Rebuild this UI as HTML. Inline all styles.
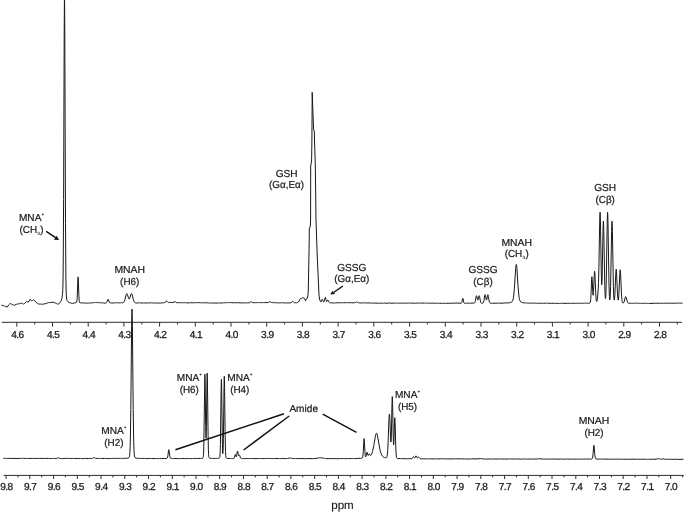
<!DOCTYPE html>
<html><head><meta charset="utf-8"><title>NMR spectra</title>
<style>
html,body{margin:0;padding:0;background:#fff;}
svg{display:block}
text{font-family:"Liberation Sans",sans-serif;fill:#1c1c1c;text-anchor:middle;text-rendering:geometricPrecision}
.lab text{font-size:10.1px;stroke:#1c1c1c;stroke-width:0.22px}
.tk text{font-size:10.1px;letter-spacing:-0.55px;stroke:#1c1c1c;stroke-width:0.28px}
.sp{font-size:4.6px;stroke-width:0.1px}
.sb{font-size:4.6px;stroke-width:0.1px}
</style></head><body>
<svg width="685" height="513" viewBox="0 0 685 513">
<rect width="685" height="513" fill="#fff"/>
<g fill="none" stroke="#2e2e2e" stroke-width="1">
<path d="M1.8 322.3H682" />
<path d="M16.8 322.3v4.3M34.7 322.3v2.2M52.5 322.3v4.3M70.4 322.3v2.2M88.2 322.3v4.3M106.1 322.3v2.2M123.9 322.3v4.3M141.8 322.3v2.2M159.6 322.3v4.3M177.5 322.3v2.2M195.3 322.3v4.3M213.2 322.3v2.2M231.0 322.3v4.3M248.9 322.3v2.2M266.7 322.3v4.3M284.6 322.3v2.2M302.4 322.3v4.3M320.3 322.3v2.2M338.1 322.3v4.3M356.0 322.3v2.2M373.8 322.3v4.3M391.7 322.3v2.2M409.6 322.3v4.3M427.4 322.3v2.2M445.3 322.3v4.3M463.1 322.3v2.2M481.0 322.3v4.3M498.8 322.3v2.2M516.7 322.3v4.3M534.5 322.3v2.2M552.4 322.3v4.3M570.2 322.3v2.2M588.1 322.3v4.3M605.9 322.3v2.2M623.8 322.3v4.3M641.6 322.3v2.2M659.5 322.3v4.3M677.3 322.3v2.2" />
<path d="M3.6 475.4H683.8" />
<path d="M6.1 475.4v3.6M18.0 475.4v2.0M29.8 475.4v3.6M41.7 475.4v2.0M53.6 475.4v3.6M65.4 475.4v2.0M77.3 475.4v3.6M89.2 475.4v2.0M101.0 475.4v3.6M112.9 475.4v2.0M124.8 475.4v3.6M136.6 475.4v2.0M148.5 475.4v3.6M160.4 475.4v2.0M172.3 475.4v3.6M184.1 475.4v2.0M196.0 475.4v3.6M207.9 475.4v2.0M219.7 475.4v3.6M231.6 475.4v2.0M243.5 475.4v3.6M255.3 475.4v2.0M267.2 475.4v3.6M279.1 475.4v2.0M290.9 475.4v3.6M302.8 475.4v2.0M314.7 475.4v3.6M326.5 475.4v2.0M338.4 475.4v3.6M350.3 475.4v2.0M362.1 475.4v3.6M374.0 475.4v2.0M385.9 475.4v3.6M397.7 475.4v2.0M409.6 475.4v3.6M421.5 475.4v2.0M433.3 475.4v3.6M445.2 475.4v2.0M457.1 475.4v3.6M469.0 475.4v2.0M480.8 475.4v3.6M492.7 475.4v2.0M504.6 475.4v3.6M516.4 475.4v2.0M528.3 475.4v3.6M540.2 475.4v2.0M552.0 475.4v3.6M563.9 475.4v2.0M575.8 475.4v3.6M587.6 475.4v2.0M599.5 475.4v3.6M611.4 475.4v2.0M623.2 475.4v3.6M635.1 475.4v2.0M647.0 475.4v3.6M658.8 475.4v2.0M670.7 475.4v3.6M682.6 475.4v2.0" />
</g>
<g fill="none" stroke="#181818" stroke-width="1.0" stroke-linejoin="round" stroke-linecap="round">
<path d="M1.8 305.19L3.5 305.78L3.8 305.77L4.4 306.05L4.8 306.09L5.4 306.35L5.6 306.33L6.9 307.1L7.2 307.16L8.7 304.89L9.5 304.24L10.2 303.5L11.1 303.87L11.3 304.1L12.3 304.65L12.5 304.65L13.2 304.96L14.3 305.25L14.8 305.09L16.3 304.34L17.6 303.99L17.7 304.06L18.3 303.94L19 303.68L19.3 303.71L19.9 303.52L20.1 303.56L20.8 303.27L21 303.35L21.5 303.23L22.2 303.27L22.6 303.58L23.7 304.16L24.2 303.64L24.7 303.32L26.3 301.93L26.8 301.3L27.5 301.77L28.1 302.42L30.1 299.33L30.3 299.66L31 300.24L31.7 301L32.7 300.29L33.2 299.79L33.9 300.16L34.3 300.51L34.8 300.74L36.8 303.05L37.1 303.12L37.4 303.37L38 303.63L38.5 304.02L39 304.18L39.7 304.01L40.6 304.02L41 304.21L41.6 304.29L41.9 304.43L42.3 304.26L43.4 304.11L43.9 303.89L45.1 303.79L46.2 303.52L47.8 302.76L48.6 302.62L49 302.66L49.3 302.54L50.5 302.57L53.1 302.17L54.2 302.57L54.8 302.85L55.1 303.11L55.7 303.23L56 303.46L56.3 303.47L57.1 303.77L57.7 304.25L59.1 303.63L59.5 303.25L59.9 302.59L60.5 301.9L61.1 301.02L61.3 300.54L61.9 298.42L62.5 294.47L62.8 289.85L63 281.97L63.2 266.9L63.6 199.56L64.2 33.28L64.4 1.55L64.5 -2.65L64.6 1.71L64.8 33.76L65.5 223.4L65.9 278.21L66.2 292.96L66.5 297.99L66.8 299.69L67.2 300.67L67.8 301.6L69 302.49L69.3 302.64L70.2 302.77L71.4 303.31L72.7 303.34L74 303.12L74.6 302.88L75.8 302.74L76.4 302.51L76.7 302L77 300.26L77.2 297.51L77.8 281.05L78 277.34L78.1 276.84L78.3 278.8L78.9 295.57L79.2 300.46L79.4 301.96L79.6 302.58L79.8 302.77L80.5 302.95L80.6 302.88L82.2 302.84L82.8 302.97L83.2 302.91L83.4 303.03L83.6 302.91L84.1 302.92L85.4 303.19L87.1 303.08L87.6 303.22L87.9 303.11L88.4 303.16L88.8 302.99L89.4 303.11L89.6 303.01L90 303.06L90.6 302.9L92.3 302.89L92.5 302.78L93.1 302.73L93.7 302.78L94.1 302.6L94.5 302.61L94.7 302.52L95.3 302.52L95.7 302.37L95.9 302.43L96.2 302.36L97.3 302.64L97.8 302.67L98.5 302.56L99.4 302.76L100.8 302.77L101.4 302.93L101.8 302.81L102.1 302.89L102.6 302.85L103 303.04L103.3 302.95L105 303.17L105.6 303.09L106.5 302.69L106.7 302.45L107 301.92L107.7 299.81L108.1 299.27L108.3 299.45L108.6 300.05L109.3 302.2L109.8 302.83L110.9 302.94L111.2 302.87L111.7 302.99L113 302.95L113.3 303.05L113.8 302.95L114.1 302.99L114.5 302.84L115.4 302.73L116.6 302.79L117.5 302.72L118.8 302.91L119.1 302.74L119.4 302.82L120.1 302.75L120.3 302.86L120.5 302.75L121.5 302.7L122.5 302.86L123.1 302.68L123.8 302.21L124.4 301.17L124.9 299.66L126.1 294.84L126.5 293.83L126.8 293.54L127.1 293.8L127.4 294.45L128.6 298.53L128.9 299.02L129.1 299.12L129.5 298.84L129.7 298.43L130.8 294.66L131.1 293.92L131.5 293.51L131.8 293.8L132.2 294.86L133.4 299.72L134.1 301.64L134.7 302.49L135.5 302.87L136.3 303.09L136.9 302.96L138.2 303.07L138.6 302.92L139.6 302.76L140 302.93L140.4 302.9L141 303.02L143.2 303.01L143.8 302.81L144.3 302.91L144.5 302.86L145 303.05L147.6 302.9L148.3 302.94L148.7 303.1L149.1 303.13L150.3 302.78L150.9 302.88L151.2 302.79L152.5 303L154.3 302.92L154.5 303.02L155.2 303.02L155.5 303.12L156.2 302.99L156.4 303.03L156.6 302.91L158.1 303.15L158.2 303.08L159 303.17L159.3 303.07L160.6 303.04L162.3 302.8L162.5 302.86L163.5 302.79L163.9 302.64L164.2 302.69L165.1 302.28L166.2 301.24L166.5 301.14L167 301.32L167.6 302.05L168.1 302.4L168.5 302.55L169.8 302.33L171.5 302.57L173 302.51L175 301.65L175.6 301.85L176.2 302.47L176.8 302.67L178.1 302.68L178.3 302.59L179.5 302.85L180.6 302.64L181.4 302.66L181.6 302.74L182.1 302.67L182.5 302.78L183.1 302.74L183.3 302.84L183.7 302.71L184.4 302.65L185.6 302.76L185.8 302.7L186.3 302.84L188 302.88L189.3 302.84L190.4 302.67L192.1 302.83L193.3 302.65L194.3 302.8L195.5 302.71L195.8 302.82L196.6 302.67L196.8 302.73L197 302.62L197.4 302.68L198.5 302.56L198.8 302.66L200 302.63L200.5 302.76L201.5 302.66L202.4 302.93L203.1 302.81L203.5 302.9L203.9 302.8L204.3 302.88L204.7 302.75L205.8 302.65L207 302.88L207.4 302.78L208.2 302.79L208.6 303.01L209.2 302.95L209.4 303.05L209.6 302.95L210.1 302.98L210.4 303.1L210.8 303.11L211.1 302.99L211.3 303.04L211.4 302.96L213.7 303.06L214.2 302.95L216 303.18L217.2 302.94L217.9 303.08L218.3 302.99L218.6 303.08L218.9 302.99L219.5 303.05L220.8 302.92L222.3 303.04L223 302.79L223.5 302.71L224.3 302.79L225.3 302.62L225.9 302.77L226.5 302.78L226.7 302.65L227.5 302.54L227.9 302.69L228.7 302.75L229.5 302.47L230.1 302.45L230.8 302.52L231.8 302.8L233.1 302.66L234.2 302.72L234.4 302.83L235.1 302.71L236.1 302.81L237.8 302.62L238.2 302.66L239 302.91L240 302.76L241.6 302.98L242.8 302.78L243.6 302.91L244.8 302.81L245.3 302.91L245.5 302.81L246 302.93L246.4 302.89L247.1 302.99L247.8 302.78L248.3 302.77L248.8 302.89L249.5 302.73L251.1 301.65L251.7 301.85L252.3 302.44L252.7 302.65L254.1 302.74L254.4 302.67L255.2 302.81L255.9 302.68L256.1 302.72L256.5 302.55L257.1 302.67L257.3 302.59L257.7 302.71L258.6 302.54L259.4 302.57L259.6 302.66L260.3 302.54L260.5 302.64L261 302.65L262.3 302.55L262.7 302.66L263.2 302.56L263.5 302.65L264 302.52L264.6 302.59L264.8 302.48L266 302.68L267.2 302.56L267.9 302.62L268.4 302.51L269.5 301.89L270.3 301.79L271.5 302.51L272.6 302.72L273.8 302.55L274.3 302.71L275.4 302.65L276.3 302.69L277.4 302.9L278.6 302.81L279.8 302.92L280.6 302.84L281.6 302.88L282.6 302.64L283.1 302.77L284 302.8L284.7 303L285.1 303.02L285.4 302.93L285.8 303L286.2 302.9L286.8 303.03L288.3 302.85L289 302.93L290.2 302.73L290.4 302.82L291.3 302.83L292.4 301.38L292.7 301.25L293.2 301.51L293.9 302.42L294.4 302.78L294.6 302.84L295.5 302.75L296.4 302.85L297.5 302.52L298.4 301.98L299.1 300.95L300 299.17L300.5 298.57L301 298.28L301.4 298.34L302.5 297.81L303.2 297.67L303.5 297.7L304 298.01L304.8 299.27L305.7 301.05L305.8 299.6L306.6 299.2L307.3 298L307.9 295.5L308.3 290L309.2 242L309.3 229L310.3 226L310.6 220L310.7 166L311.6 161L311.9 140L312.2 92.4L313.6 129.5L314.3 131L314.5 140L315.3 165L316 220L317.2 255L319 295L319.5 299L320.3 301.3L321 301.9L321.5 301.01L322 299.53L322.3 299.15L322.6 299.58L323.4 301.73L323.8 301.99L324 301.8L324.4 300.65L325 297.76L325.2 297.27L325.3 297.22L325.4 297.27L325.6 297.79L326.2 300.7L326.5 301.51L326.6 301.62L326.8 301.64L327.6 300.21L327.7 300.08L328 300.02L328.3 300.43L328.9 301.91L329.2 302.34L329.6 302.69L330.4 302.89L331.1 302.86L331.3 302.76L333.6 303.02L334.1 302.91L334.7 303L335.1 302.87L335.5 302.91L335.9 302.73L336.7 302.77L337 302.89L338.5 302.74L340.6 302.78L341.7 302.68L342.4 302.87L343.7 302.63L345.4 302.75L346.6 302.57L347 302.7L347.1 302.63L347.9 302.76L348.4 302.73L348.7 302.85L350.4 302.63L351.9 302.78L354.2 302.8L355.4 302.6L356.6 301.85L357 301.97L357.4 302.32L358.5 302.8L359.7 302.88L360.1 303.01L361.4 302.85L363.1 303.05L363.5 302.89L364.6 302.73L365.2 302.74L365.4 302.88L366.2 303.06L367.4 302.98L368 303.04L369.3 302.85L370.7 303.18L371.3 303.1L371.5 303.18L371.8 303.05L372.7 303.07L373 303.22L373.6 303.19L373.8 303.26L375.2 303L378.7 303.28L379.5 303.21L379.7 303.11L381.2 303.29L382 303.23L382.4 303.06L382.8 303.19L383.1 303.12L383.4 303.26L384 303.1L384.7 303.04L387.2 303.27L389.5 302.97L392 303.28L392.9 303.09L393.9 303.27L394.8 303.11L395.4 303.19L395.6 303.09L396.6 303.14L396.8 303.24L397.4 303.18L397.9 303L398.5 303L399.8 303.33L400.3 303.13L401 303L401.7 303.16L402.9 303.11L403.2 303.19L404.3 303.02L405.2 303.24L406.4 303.15L406.7 303.25L408.5 302.97L409.5 303.15L410.4 303.08L411.3 303.23L412 303.09L413.1 303.16L414.1 303.04L415.3 303.3L416.3 303.11L418.6 303.13L419.3 303.04L419.7 303.13L421.3 302.97L423 303.13L424.1 303.07L424.4 303.16L424.7 303.04L425.3 303.13L425.6 303.07L425.9 303.18L426.3 303.12L426.7 303.25L427.5 303.29L428.3 303.06L428.6 303.13L430.2 303.11L430.8 303.3L431.7 303.25L431.8 303.14L432.1 303.09L432.8 303.14L432.9 303.08L434.7 303.32L435.7 303.31L436.2 303.14L436.6 303.2L437.1 303.13L437.4 303.31L438.4 303.2L439.6 303.37L441.6 303.28L442.3 303.38L443.1 303.24L443.9 303.31L445.1 303.18L445.6 303.31L446.8 303.24L448.2 303.35L450 303.18L450.9 303.31L452 303.13L452.8 303.24L454 303.05L454.3 303.18L455 303.23L455.8 303.12L457.4 303.08L457.9 303.15L459 303.1L460 303.25L461.3 303.13L461.7 302.74L462 301.78L462.6 298.62L462.8 298.21L463 298.6L463.8 302.42L464 302.84L464.4 303.18L464.7 303.29L465.5 303.34L466.4 303.12L467.2 303.11L467.4 303.22L469.1 303.13L469.3 303.21L469.7 303.1L470.6 303.23L473 303.05L473.8 303.16L474.1 303.11L474.6 302.84L475.1 301.85L475.4 300.66L476.1 296.67L476.4 295.74L476.6 295.69L476.7 295.87L477.5 299.48L477.7 300.03L477.9 300.17L478.2 299.46L478.9 296.25L479.2 295.68L479.4 295.97L479.6 296.72L480.4 301.05L480.7 302.13L481 302.73L481.4 303.16L482.2 303.24L482.8 303.16L483.2 302.95L483.6 302.08L484 300.23L484.7 295.65L484.9 294.9L485.1 294.58L485.3 294.85L485.5 295.68L486.2 299.52L486.5 300.08L486.7 299.84L486.9 299.06L487.6 295.25L487.8 294.71L487.9 294.67L488 294.8L488.4 296.38L489.3 301.74L489.6 302.57L490.1 303.11L491.6 303.3L492.6 303.27L492.9 303.15L494 303.31L495.1 303.14L496 303.24L496.9 303.21L497.2 303.08L498.6 303.23L499.8 303.07L501.9 303.29L503.9 302.97L504.9 302.97L505.1 303.06L506.3 302.89L508.3 302.96L509.1 302.69L510.3 302.66L511.8 301.86L512.4 301.19L512.9 300.07L513.4 297.86L513.9 294L514.3 289.5L515.7 268.46L516 265.54L516.3 264.37L516.5 264.83L516.6 265.4L516.9 268.32L518.1 286.92L518.9 295.8L519.3 298.4L519.7 300.04L520 300.83L520.7 301.95L521.3 302.22L521.7 302.34L521.8 302.29L522.6 302.74L522.8 302.69L524.2 302.91L525.4 302.81L525.6 302.9L526.1 302.88L526.5 303.03L526.8 302.99L527.4 303.18L528.9 303.03L529.2 303.17L529.7 303.22L530.1 303.21L530.4 303.06L530.9 303.07L531.7 303.17L531.9 303.27L532.8 303.26L533 303.12L533.4 303.07L534.2 303.14L534.4 303.05L534.8 303.14L535.1 303.04L536.7 303.31L536.9 303.23L537.3 303.29L537.9 303.22L538.1 303.3L539.1 303.3L540.5 303.16L541.9 303.32L542.4 303.31L542.6 303.2L543.1 303.23L543.4 303.36L544 303.43L545.1 303.16L545.7 303.11L546.3 303.26L547.4 303.15L547.6 303.24L547.9 303.18L549.3 303.38L550.1 303.29L551.8 303.36L553 303.17L554.2 303.43L554.7 303.32L555.7 303.28L555.9 303.35L557.4 303.35L558.1 303.52L559 303.4L559.2 303.29L559.7 303.46L560.4 303.44L560.7 303.32L561.7 303.22L561.9 303.31L562.2 303.25L562.9 303.36L563.9 303.25L565 303.39L567.1 303.36L567.2 303.29L567.9 303.37L569 303.21L569.3 303.35L569.8 303.39L570.5 303.28L571.2 303.38L572.1 303.27L572.8 303.34L574 303.23L574.1 303.32L574.4 303.25L575 303.33L575.8 303.26L576.3 303.36L577.8 303.19L578.6 303.27L579.3 303.23L580.3 303.41L581.5 303.32L581.8 303.4L582.4 303.22L583.5 303.32L584 303.14L584.6 303.08L585.5 303.17L585.7 303.27L586.7 303.22L586.9 303.13L587.5 303.29L587.9 303.25L588.3 303.35L589.6 303.15L590 302.94L590.3 302.32L590.7 299.49L591 294.59L591.6 279.92L591.8 277.11L591.9 276.71L592 277.05L592.2 279.66L592.8 292.75L593 294.95L593.1 295.29L593.2 295.06L593.5 291.46L594.3 273.61L594.5 271.47L594.6 271.21L594.8 272.37L595 275.46L595.7 292.24L596 297.44L596.3 300.42L596.5 301.28L596.7 301.56L596.9 301.28L597.2 299.97L597.7 295.98L598.2 289.33L598.5 282.76L598.9 267.8L599.7 221.76L599.9 214.47L600.1 212.23L600.4 219.15L601.2 268.31L601.6 283.28L601.7 284.55L601.8 284.8L602.1 279.34L603 231.16L603.2 223.78L603.4 221.14L603.6 223.85L603.8 231.33L604.8 286.75L605.1 295.15L605.3 297.87L605.5 298.68L605.7 297.54L605.9 294.35L606.2 285.01L607.2 223.4L607.4 215.14L607.6 212.26L607.8 215.15L608 223.46L609 284.98L609.4 296.52L609.6 299.08L609.8 299.97L610 299.34L610.2 297.12L610.6 286.71L611.6 231.26L611.8 223.83L612 221.19L612.2 223.84L612.4 231.26L613.4 286.64L613.8 297.06L614 299.31L614.2 300.15L614.3 300.11L614.5 299.21L614.8 295.8L615.8 273.14L616 270.17L616.2 269.15L616.3 269.41L616.5 271.47L617.5 293.91L617.8 298.08L618 299.61L618.2 300.11L618.3 300L618.5 299.01L618.7 296.98L619.1 289.96L619.8 273.51L620 270.68L620.2 269.67L620.4 270.71L620.6 273.61L621.4 292.21L621.7 297.26L621.9 299.57L622.2 301.68L622.5 302.68L622.8 303.05L623.1 303.11L623.5 302.88L624.1 301.93L625.3 297.19L625.5 296.7L625.7 296.59L626 296.87L626.2 297.41L627 300.71L627.4 301.99L627.7 302.56L628 302.91L628.7 303.17L630.2 303.31L630.7 303.24L631.2 303.33L631.4 303.24L632.6 303.31L633.2 303.23L633.3 303.31L633.6 303.26L634 303.32L634.5 303.22L635.5 303.3L636.2 303.12L637.1 303.1L637.6 303.23L637.9 303.2L638 303.31L638.5 303.41L639.5 303.4L639.9 303.28L640.4 303.38L640.7 303.32L641.5 303.39L641.7 303.31L642.5 303.46L644 303.19L644.2 303.32L644.4 303.25L645.4 303.32L645.5 303.39L645.9 303.28L646.6 303.36L646.7 303.25L647.3 303.42L648.5 303.33L649.7 303.56L654.2 303.21L654.9 303.4L655.9 303.24L656.8 303.36L658.1 303.12L659.5 303.39L660.3 303.25L661.9 303.31L662.6 303.19L663.5 303.32L664.2 303.17L665.9 303.25L667.1 303.12L667.9 303.22L668 303.15L668.3 303.27L669.5 303.13L671.8 303.24L673.1 303.11L673.8 303.31L675.1 303.15L676.5 303.22L677.4 303.04L677.9 303.06L678.6 303.24L678.8 303.15L679.1 303.23L679.5 303.08L680.4 303.14L681 303.31L682 303.21"/>
<path d="M3.6 458.34L4.6 458.29L5.3 458.44L5.9 458.43L6 458.52L6.7 458.46L7.3 458.54L9.5 458.36L12 458.4L13.1 458.51L16.1 458.41L19.1 458.49L20.5 458.32L21.7 458.48L22.5 458.31L22.7 458.38L23.3 458.29L25.3 458.48L26.9 458.33L27.1 458.43L27.3 458.36L27.9 458.5L28.8 458.52L30 458.32L31 458.48L31.9 458.38L32.1 458.46L32.3 458.39L32.7 458.52L32.9 458.43L34.1 458.36L35.7 458.51L37.6 458.38L38.6 458.56L39.8 458.33L42.8 458.42L44.2 458.55L45.3 458.53L45.8 458.41L48.6 458.39L49.7 458.51L50 458.62L51.5 458.46L52.7 458.49L53.6 458.38L54.6 458.5L56.4 458.48L58.2 457.85L58.9 457.92L59.5 458.25L60.1 458.45L61 458.44L61.6 458.58L62.7 458.61L64.1 458.46L65 458.48L65.8 458.34L67.1 458.49L67.5 458.38L68.4 458.39L69.5 458.55L69.9 458.46L71.2 458.54L72.2 458.43L73.6 458.54L74.9 458.4L77.1 458.57L78.8 458.44L80.7 458.56L81.5 458.43L83.1 458.61L84.4 458.44L84.6 458.53L85.1 458.42L87 458.57L88.2 458.52L88.6 458.41L90 458.48L90.3 458.4L91.2 458.43L91.7 458.56L92.4 458.45L93.7 457.71L94.1 457.62L94.5 457.66L95.5 458.27L96 458.46L97.1 458.36L98.6 458.47L99.4 458.33L99.7 458.43L100.2 458.36L100.7 458.5L101.1 458.41L104.2 458.49L104.5 458.41L105.9 458.53L106.7 458.41L108.7 458.58L110.7 458.54L111.2 458.41L112.5 458.44L113.9 458.31L115.3 458.53L115.8 458.38L116.1 458.46L116.2 458.39L117.6 458.45L118.2 458.37L119.3 458.44L120.5 458.36L121.1 458.45L121.6 458.39L122.3 458.5L123.1 458.45L123.7 458.28L125.1 458.47L126 458.24L126.7 458.17L127.1 458.24L128.1 458.05L129 457.57L129.4 456.77L129.6 455.74L129.9 452.53L130.2 445.4L130.4 437.17L130.8 409.43L131.6 326.87L131.8 313.76L132 309.05L132.2 313.78L132.4 326.91L133.2 409.53L133.7 441.67L134 450.7L134.3 454.88L134.7 457.02L135.1 457.71L135.7 458.07L136.8 458.24L137.9 458.35L138.2 458.27L139.7 458.47L140.5 458.39L141.9 458.49L142.7 458.39L144.4 458.4L145.8 458.56L147.9 458.61L149.3 458.39L151.2 458.59L151.6 458.49L155 458.56L155.4 458.47L155.8 458.57L156.4 458.49L158.6 458.59L159 458.48L159.5 458.53L160.1 458.44L160.9 458.57L161.7 458.58L164 458.4L164.7 458.51L166.7 458.46L167.3 458.03L167.6 457.18L167.9 455.55L168.5 450.73L168.7 449.76L168.8 449.64L168.9 449.77L169.1 450.77L169.9 456.78L170.3 458.07L170.4 458.23L170.8 458.4L171.4 458.49L171.7 458.42L172.5 458.62L173.4 458.52L174.8 458.56L175 458.48L177 458.62L177.7 458.53L179.4 458.61L180.2 458.5L181.3 458.62L183 458.43L184.5 458.61L186.2 458.49L186.5 458.56L186.7 458.48L188.4 458.59L189.8 458.5L190.5 458.61L192.2 458.61L192.7 458.54L193.5 458.58L194.9 458.35L196.4 458.57L198.1 458.42L199 458.5L200.3 458.45L200.7 458.54L201.7 458.42L202.5 458.14L203 457.77L203.3 456.66L203.5 454.6L203.8 446.53L204.8 375.64L204.9 374.21L205.1 379.6L205.7 426.58L205.9 436.24L206 438.23L206.1 438.19L206.4 426.19L207 378.56L207.2 373.1L207.4 378.7L208.1 435.66L208.4 449.88L208.6 454.47L208.8 456.63L209 457.54L209.2 457.93L209.4 458.11L209.9 458.25L211.4 458.29L212.5 458.44L212.8 458.57L214.4 458.37L215.2 458.49L216.3 458.38L217.4 458.47L218.1 458.4L219.4 458.06L219.7 457.57L219.9 456.55L220.2 451.87L220.4 444.69L221.1 391.25L221.3 380.78L221.4 379.37L221.5 380.78L221.7 391.19L222.4 444.24L222.6 450.99L222.8 453.58L222.9 453.51L223.2 447.81L223.4 438.31L224 388.53L224.2 377.72L224.3 376.29L224.5 382.04L225.1 431.82L225.5 451.55L225.7 455.34L225.9 457L226.1 457.73L226.5 458.06L227.9 458.48L229.2 458.55L230.5 458.4L231.6 458.51L231.9 458.63L232.3 458.54L233.1 458.57L233.8 458.37L234.1 458.12L234.3 457.71L235 455.08L235.2 454.6L235.3 454.55L235.5 454.77L236 456.48L236.2 456.79L236.3 456.77L236.6 455.85L237.2 451.84L237.4 451.1L237.5 450.99L237.6 451.09L237.8 451.8L238.3 454.76L238.5 455.47L238.7 455.66L239.3 454.89L239.5 454.97L239.8 455.68L240.5 457.95L241 458.51L241.4 458.61L241.7 458.48L242.2 458.54L242.8 458.44L243.1 458.52L243.4 458.45L245.3 458.66L247.7 458.52L248.8 458.57L249.5 458.47L249.8 458.55L250.7 458.5L250.9 458.58L251.3 458.48L252.1 458.61L253.5 458.49L256.1 458.65L257 458.44L257.8 458.6L258.7 458.47L259.7 458.59L260.5 458.46L261.4 458.59L263.9 458.48L264.8 458.65L265.6 458.52L267.5 458.45L268.2 458.53L269.6 458.48L271 458.65L271.5 458.58L272.1 458.66L273.5 458.51L274.4 458.59L276 458.44L278.6 458.6L279.5 458.49L280.9 458.69L281.9 458.49L282.8 458.42L285.4 458.65L286.1 458.54L287.5 458.54L289.6 457.95L290.3 457.99L291.7 458.37L292.4 458.39L294 458.68L294.7 458.53L295.5 458.5L296.9 458.63L297.8 458.53L299 458.62L301.9 458.54L304.7 458.69L307.2 458.54L312.8 458.68L313.5 458.55L314 458.61L315.9 458.43L318 457.89L318.7 457.81L319.4 457.93L320.8 457.7L321.5 457.8L322 457.99L323.4 458.16L324.4 458.44L325.4 458.44L326.8 458.62L329.2 458.65L331 458.51L332.5 458.68L334.4 458.53L336.1 458.67L338.1 458.71L339.1 458.58L340.2 458.55L340.5 458.64L341.1 458.54L342 458.69L343.4 458.49L344.3 458.68L345.7 458.55L347.5 458.63L348.8 458.5L349.9 458.63L351.3 458.54L352.4 458.63L353.3 458.47L353.5 458.53L354.2 458.5L354.6 458.61L356 458.47L357.4 458.49L359 458.29L360.3 458.4L361.4 458.31L361.7 458.17L362.1 458.14L362.5 457.82L362.9 456.2L363.3 451.31L363.9 439.88L364.1 438.58L364.2 438.89L364.4 441.32L365 452.76L365.3 455.81L365.5 456.68L365.6 456.88L365.7 456.88L366 456.32L366.7 452.89L367 452.24L367.1 452.3L367.3 452.8L367.8 454.89L368.1 455.55L368.4 455.35L369 454.07L369.3 453.87L369.6 454.14L370.3 455.47L370.5 455.62L370.7 455.63L371.1 455.29L371.6 454.36L372.6 451.35L373.8 445.51L375.4 436.24L376 433.88L376.3 433.32L376.5 433.19L376.8 433.38L377 433.84L377.4 435.3L379.9 449.3L380.5 451.76L381.1 453.68L381.8 455.16L382.9 456.64L383.6 457.13L384.5 457.5L385.6 457.78L386 457.82L386.4 457.73L386.8 457.27L387.1 456.28L387.4 454.26L387.7 450.7L388.1 442.62L388.9 420.49L389.3 414.35L389.4 414.05L389.5 414.3L389.8 418.11L390.7 440.13L390.9 442.1L391 441.94L391.1 441.04L391.4 432.93L392 403.03L392.2 397.25L392.3 396.53L392.4 397.42L392.6 403.51L393.2 435.29L393.5 444.02L393.6 444.92L393.7 444.81L393.9 441.8L394.5 422.12L394.7 418.19L394.8 417.7L394.9 418.26L395.1 422.3L395.7 444.18L396.1 453.73L396.5 457.34L396.7 457.94L396.9 458.25L397.4 458.52L400 458.52L400.2 458.62L401.6 458.53L402.8 458.66L404.1 458.61L406.1 458.79L407.8 458.71L408.2 458.61L409.6 458.76L411.4 458.7L411.8 458.62L412.1 458.43L412.6 457.74L413 456.97L413.3 456.69L413.6 456.76L414.3 457.79L414.7 457.97L415.1 457.39L415.7 456.02L416 455.76L416.2 455.87L417.2 457.71L417.5 457.76L418.1 457.28L418.4 457.11L418.6 457.11L418.9 457.31L419.8 458.41L420.3 458.73L421.4 458.86L422.1 458.76L423.7 458.85L424.8 458.81L426.4 458.96L427.1 458.84L427.8 458.84L428.5 458.96L429.6 458.76L430.5 458.9L432 458.81L433.1 458.92L434.3 458.85L434.8 458.94L435.3 458.87L436.5 458.93L437.8 458.8L439 458.91L440.4 458.78L441.9 458.79L442.4 458.69L443.5 458.79L443.8 458.93L445.2 458.83L446.4 458.98L447.6 458.82L448.8 458.94L452.9 458.83L453.8 458.91L454.8 458.84L455.5 458.96L457.2 458.78L457.9 458.92L460.3 458.77L461.7 458.9L462.6 458.84L464.2 459.06L464.4 458.97L465.7 458.97L466.4 458.87L466.8 458.98L468 459.02L469.3 459.02L469.8 458.93L470.2 458.99L471.6 458.9L471.8 458.82L478 458.93L478.8 458.72L480.5 458.53L482 458.9L482.4 458.84L483.6 458.99L484.3 458.93L485.4 459.07L485.8 458.97L487.1 459.06L489.1 458.94L490.5 459.14L491.9 458.92L492.4 459.03L493.1 458.98L493.4 459.09L494.8 458.99L496.8 459.08L498.6 458.92L499.2 459L500.3 458.98L501.1 458.86L502.3 459.08L504.5 458.99L507 459.11L507.2 459.02L508.4 458.92L509.6 458.91L510.3 459.06L511.7 458.93L513.9 459.05L514.7 458.92L515.6 459L516 459.14L517.3 458.95L518.2 459.01L519 458.94L520.9 459.21L521.9 459.15L522.3 458.97L523.3 458.87L524 459.07L524.6 459.11L525.3 459.02L526.4 459.13L527.8 459.03L529.2 459.13L530.6 459.01L531.5 459.16L533.8 459L535.1 459.05L536 458.94L537.2 459.09L537.9 459L538.6 458.77L539.9 458.68L542.6 459.16L543.5 459.04L544.9 459.11L545.5 459.03L546.2 459.2L546.8 459.2L547.4 459.04L549.4 459.18L550.5 458.97L551.3 459.04L552.2 458.93L553.3 459.13L554.8 459L557.8 459.17L559.9 459.1L560.2 459L561.6 459.17L562.4 459.19L562.7 459.08L564.2 459.24L564.6 459.16L566.1 459.15L566.6 459L567.5 458.93L568.8 459.14L570.2 459.05L571.4 459.18L572.5 459.09L574.5 459.2L574.8 459.12L576.9 459.17L577.3 459.1L579.5 459.25L579.8 459.15L580.1 459.22L580.9 459.04L581.5 459.03L582.6 459.23L583.9 459L584.8 458.99L585.1 459.11L586 459.17L586.6 459.05L588 459.13L589.3 459.01L589.8 459.09L590.4 459.05L590.8 459.15L591.4 459.13L592 458.88L592.2 458.64L592.5 457.96L592.7 457L593.1 453.4L593.6 446.95L593.8 445.41L593.9 445.23L594 445.44L594.2 446.96L594.8 454.51L595.1 457.06L595.5 458.52L595.7 458.81L596 458.99L597.8 459.15L599.5 459.12L599.7 459.04L600.5 459.09L601.4 458.99L602.5 459.17L603.9 459.04L608.7 459.19L610.6 459.09L611.6 459.23L613 459.08L613.6 459.23L614.5 459.24L616.4 459.07L618.4 459.21L620.2 459.06L620.8 459.24L622.2 459.18L623.7 459.27L625.1 459.14L626.2 459.33L628.2 459.13L629.9 459.31L633 459.13L635.9 459.27L636.8 459.12L637.5 459.11L638.2 459.26L640.1 459.23L640.4 459.33L642.2 459.17L644.2 459.3L645.5 459.12L646.3 459.35L647.5 459.44L648.5 459.24L648.7 459.3L648.9 459.2L649.8 459.32L651.8 459.31L653.2 459.14L655 459.3L656 459.2L657.1 458.91L657.4 458.74L658.3 458.62L659.7 459.1L660.4 459.18L661.4 459.18L663.2 458.85L664.9 459.32L665.4 459.32L666.3 459.13L667.7 459.32L669.5 459.34L670.3 459.25L671.8 459.41L673.7 459.34L674.8 459.2L676.7 459.38L678.1 459.32L679.9 459.46L681.9 459.29L683.1 459.29"/>
</g>
<g stroke="#111" stroke-width="1.45" fill="#111" stroke-linecap="butt">
<path d="M175.4 449.7L283.9 413.8M243.6 450L289.2 416M322.7 414.1L356.5 432.4" fill="none"/>
<path d="M46.2 231.3L55.6 237.7" fill="none"/>
<path d="M59.1 239.9L56.7 235.8L53.9 239.7Z" stroke="none"/>
<path d="M342.9 286L333.6 292.5" fill="none"/>
<path d="M330.2 294.6L332.4 290.9L335.1 294.0Z" stroke="none"/>
</g>
<g class="tk">
<text x="17.4" y="338.1">4.6</text>
<text x="53.1" y="338.1">4.5</text>
<text x="88.8" y="338.1">4.4</text>
<text x="124.5" y="338.1">4.3</text>
<text x="160.2" y="338.1">4.2</text>
<text x="195.9" y="338.1">4.1</text>
<text x="231.6" y="338.1">4.0</text>
<text x="267.3" y="338.1">3.9</text>
<text x="303.0" y="338.1">3.8</text>
<text x="338.7" y="338.1">3.7</text>
<text x="374.4" y="338.1">3.6</text>
<text x="410.2" y="338.1">3.5</text>
<text x="445.9" y="338.1">3.4</text>
<text x="481.6" y="338.1">3.3</text>
<text x="517.3" y="338.1">3.2</text>
<text x="553.0" y="338.1">3.1</text>
<text x="588.7" y="338.1">3.0</text>
<text x="624.4" y="338.1">2.9</text>
<text x="660.1" y="338.1">2.8</text>
<text x="6.4" y="490">9.8</text>
<text x="30.1" y="490">9.7</text>
<text x="53.9" y="490">9.6</text>
<text x="77.6" y="490">9.5</text>
<text x="101.3" y="490">9.4</text>
<text x="125.1" y="490">9.3</text>
<text x="148.8" y="490">9.2</text>
<text x="172.6" y="490">9.1</text>
<text x="196.3" y="490">9.0</text>
<text x="220.0" y="490">8.9</text>
<text x="243.8" y="490">8.8</text>
<text x="267.5" y="490">8.7</text>
<text x="291.2" y="490">8.6</text>
<text x="315.0" y="490">8.5</text>
<text x="338.7" y="490">8.4</text>
<text x="362.4" y="490">8.3</text>
<text x="386.2" y="490">8.2</text>
<text x="409.9" y="490">8.1</text>
<text x="433.6" y="490">8.0</text>
<text x="457.4" y="490">7.9</text>
<text x="481.1" y="490">7.8</text>
<text x="504.9" y="490">7.7</text>
<text x="528.6" y="490">7.6</text>
<text x="552.3" y="490">7.5</text>
<text x="576.1" y="490">7.4</text>
<text x="599.8" y="490">7.3</text>
<text x="623.5" y="490">7.2</text>
<text x="647.3" y="490">7.1</text>
<text x="671.0" y="490">7.0</text>
</g>
<g class="lab">
<text transform="translate(31.5 221) scale(1.0 1)">MNA<tspan class="sp" dy="-5">+</tspan></text><text transform="translate(31.5 232.8) scale(0.98 1)">(CH<tspan class="sb" dy="1.7" dx="0.2">3</tspan><tspan dy="-1.7" dx="0.5">)</tspan></text>
<text transform="translate(129.7 272.8) scale(1.03 1)">MNAH</text><text transform="translate(129.7 284.6) scale(0.98 1)">(H6)</text>
<text transform="translate(286.6 176.6) scale(1.0 1)">GSH</text><text transform="translate(286.6 188.3) scale(0.98 1)">(Gα,Eα)</text>
<text transform="translate(351.8 270.8) scale(1.0 1)">GSSG</text><text transform="translate(351.8 282.4) scale(0.98 1)">(Gα,Eα)</text>
<text transform="translate(483 273.1) scale(1.0 1)">GSSG</text><text transform="translate(483 285.1) scale(0.98 1)">(Cβ)</text>
<text transform="translate(516.7 245.9) scale(1.03 1)">MNAH</text><text transform="translate(516.7 257.3) scale(0.98 1)">(CH<tspan class="sb" dy="1.7" dx="0.2">3</tspan><tspan dy="-1.7" dx="0.5">)</tspan></text>
<text transform="translate(605.2 191.1) scale(1.0 1)">GSH</text><text transform="translate(605.2 203.1) scale(0.98 1)">(Cβ)</text>
<text transform="translate(113.9 433.9) scale(1.0 1)">MNA<tspan class="sp" dy="-5">+</tspan></text><text transform="translate(113.9 445.6) scale(0.98 1)">(H2)</text>
<text transform="translate(189.3 380.9) scale(1.0 1)">MNA<tspan class="sp" dy="-5">+</tspan></text><text transform="translate(189.3 392.9) scale(0.98 1)">(H6)</text>
<text transform="translate(239.8 380.9) scale(1.0 1)">MNA<tspan class="sp" dy="-5">+</tspan></text><text transform="translate(239.8 392.9) scale(0.98 1)">(H4)</text>
<text transform="translate(303.7 411.9) scale(1.0 1)">Amide</text>
<text transform="translate(407.5 398) scale(1.0 1)">MNA<tspan class="sp" dy="-5">+</tspan></text><text transform="translate(407.5 409.6) scale(0.98 1)">(H5)</text>
<text transform="translate(594 424.1) scale(1.03 1)">MNAH</text><text transform="translate(594 435.8) scale(0.98 1)">(H2)</text>
<text x="342.5" y="509.4" style="font-size:11.6px;stroke-width:0.15px">ppm</text>
</g>
</svg>
</body></html>
